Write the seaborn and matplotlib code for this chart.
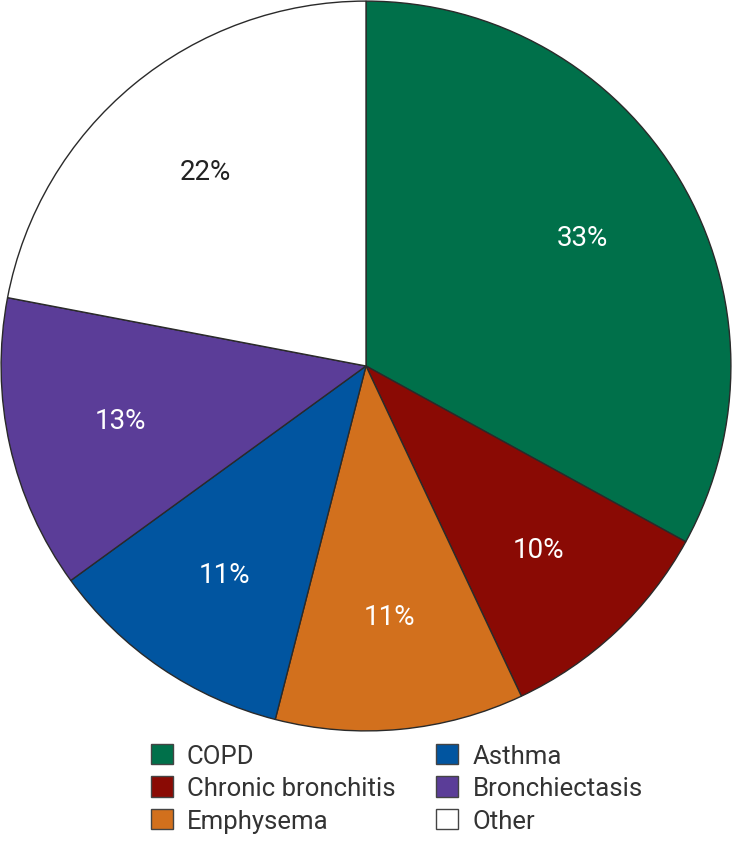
import matplotlib.pyplot as plt
import seaborn as sns
from matplotlib.patches import Patch

categories = ["COPD", "Chronic bronchitis", "Emphysema", "Asthma", "Bronchiectasis", "Other"]
shares = [33, 10, 11, 11, 13, 22]
colors = ["#00704a", "#8a0a04", "#d2701d", "#0155a0", "#5b3d98", "#ffffff"]
text_colors = ["white", "white", "white", "white", "white", "#222222"]

sns.set_theme(style="white")
plt.rcParams["font.family"] = ["Roboto", "DejaVu Sans"]

fig = plt.figure(figsize=(7.32, 8.53), dpi=100)
ax = fig.add_axes([0.0, 1 - 733 / 853, 1.0, 732 / 853])

wedges, _, autotexts = ax.pie(
    shares,
    colors=colors,
    startangle=90,
    counterclock=False,
    autopct=lambda p: f"{p:.0f}%",
    pctdistance=0.69,
    wedgeprops={"edgecolor": "#2a2a2a", "linewidth": 1.0},
    textprops={"fontsize": 20},
)
for t, c in zip(autotexts, text_colors):
    t.set_color(c)
ax.set_aspect("equal")
ax.set_xlim(-1.003, 1.003)
ax.set_ylim(-1.003, 1.003)

handles = [Patch(facecolor=c, edgecolor="#444444", linewidth=1.0) for c in colors]
fig.legend(
    handles,
    categories,
    loc="lower center",
    bbox_to_anchor=(0.542, 0.0),
    ncol=2,
    frameon=False,
    fontsize=18.5,
    handlelength=0.85,
    handleheight=0.85,
    handletextpad=0.55,
    columnspacing=1.6,
    labelspacing=0.32,
    borderpad=0.25,
    labelcolor="#333333",
)

fig.savefig("out.png", dpi=100)
